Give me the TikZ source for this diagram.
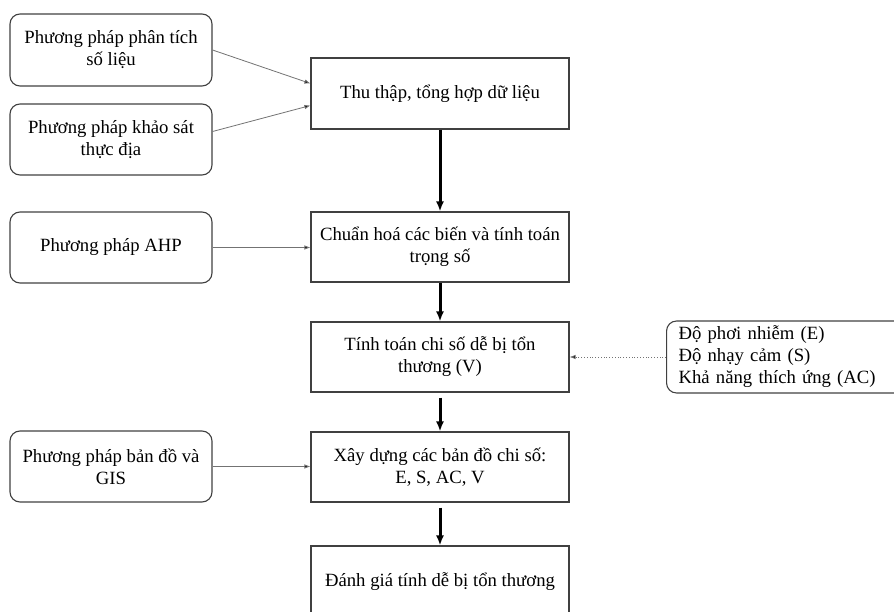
\documentclass[tikz,border=0pt]{standalone}
\usepackage{fontspec}
\setmainfont{Liberation Serif}
\usepackage{xcolor}
\usetikzlibrary{arrows.meta}

\begin{document}
\begin{tikzpicture}[x=1pt, y=-1pt, line width=1.1pt,
    every node/.style={font=\fontsize{18.7}{22}\selectfont, align=center, inner sep=0pt},
    methodbox/.style={draw=black!75, rounded corners=10pt, minimum width=202pt, minimum height=71pt},
    stepbox/.style={draw=black!75, minimum width=258pt, minimum height=70pt},
    feed/.style={draw=black!55, line width=0.8pt, -{Latex[length=6pt, width=4.5pt, fill=black]}},
    flow/.style={line width=3pt, -{Latex[length=10pt, width=8pt]}},
    hint/.style={draw=black!55, line width=0.8pt, dotted, -{Latex[length=6pt, width=4.5pt, fill=black]}}]
    \useasboundingbox (0,0) rectangle (894,612);
    \clip (0,0) rectangle (894,612);
    \node[methodbox, minimum height=72pt] (phantich) at (111,50) {Phương pháp phân tích\\ số liệu};
    \node[methodbox] (khaosat) at (111,139.5) {Phương pháp khảo sát\\ thực địa};
    \node[methodbox] (ahp) at (111,247.5) {Phương pháp AHP};
    \node[methodbox] (gis) at (111,466.5) {Phương pháp bản đồ và\\ GIS};
    \node[stepbox, minimum height=71pt] (thuthap) at (440,93.5) {Thu thập, tổng hợp dữ liệu};
    \node[stepbox] (chuanhoa) at (440,247) {Chuẩn hoá các biến và tính toán\\ trọng số};
    \node[stepbox] (tinhtoan) at (440,357) {Tính toán chi số dễ bị tổn\\ thương (V)};
    \node[stepbox] (bando) at (440,467) {Xây dựng các bản đồ chi số:\\ E, S, AC, V};
    \node[stepbox, minimum height=71pt] (danhgia) at (440,581.5) {Đánh giá tính dễ bị tổn thương};
    \node[draw=black!75, rounded corners=10pt, anchor=west, align=left, text width=216pt,
          inner xsep=12pt, minimum height=72pt] (thanhphan) at (666,357)
          {Độ phơi nhiễm (E)\\ Độ nhạy cảm (S)\\ Khả năng thích ứng (AC)};
    \draw[feed] (phantich.east) -- ([yshift=10pt]thuthap.west);
    \draw[feed] ([yshift=8pt]khaosat.east) -- ([yshift=-12pt]thuthap.west);
    \draw[feed] (ahp.east) -- (ahp.east -| chuanhoa.west);
    \draw[feed] (gis.east) -- (gis.east -| bando.west);
    \draw[hint] (thanhphan.west) -- (tinhtoan.east);
    \draw[flow] (thuthap.south) -- (chuanhoa.north);
    \draw[flow] (chuanhoa.south) -- (tinhtoan.north);
    \draw[flow, shorten <=5pt] (tinhtoan.south) -- (bando.north);
    \draw[flow, shorten <=5pt] (bando.south) -- (danhgia.north);
\end{tikzpicture}
\end{document}
